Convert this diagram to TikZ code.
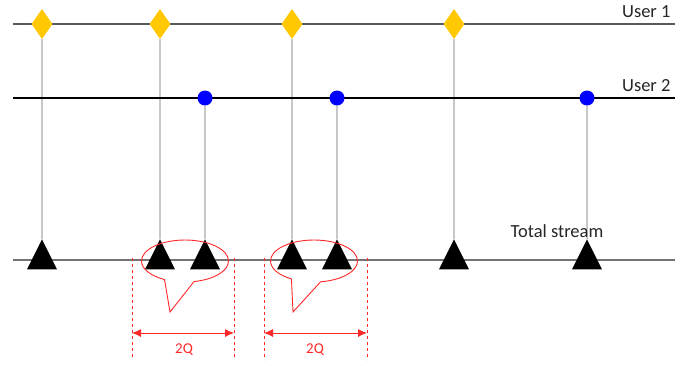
\documentclass[tikz,border=0pt]{standalone}
\usepackage{fontspec}
\setmainfont{Carlito}
\usetikzlibrary{positioning,shapes,backgrounds,arrows.meta}

\begin{document}
\begin{tikzpicture}[x=1pt,y=-1pt,
  tri/.style={isosceles triangle,isosceles triangle stretches,shape border rotate=90,fill=black,inner sep=0pt,minimum width=30pt,minimum height=30pt},
  dia/.style={diamond,fill={rgb,255:red,255;green,200;blue,0},inner sep=0pt,minimum width=21pt,minimum height=30pt},
  dot/.style={circle,fill=blue,inner sep=0pt,minimum size=15pt},
  drop/.style={draw={rgb,255:red,200;green,200;blue,200},line width=1.5pt},
  lbl/.style={font=\fontsize{18.5}{22}\selectfont,text=black!85},
  redline/.style={draw={rgb,255:red,255;green,40;blue,40},line width=0.9pt}]
\useasboundingbox (0,0) rectangle (700,365);

\coordinate (u1l) at (13,24);  \coordinate (u1r) at (675,24);
\coordinate (u2l) at (13,98);  \coordinate (u2r) at (675,98);
\coordinate (tsl) at (13,260); \coordinate (tsr) at (675,260);

\foreach \name/\x in {da/42, db/160, dc/292, dd/454} {
    \node[dia] (\name) at (\x,24) {};
}
\foreach \name/\x in {c1/205, c2/337, c3/587} {
    \node[dot] (\name) at (\x,98) {};
}
\foreach \number/\x in {1/42, 2/160, 3/205, 4/292, 5/337, 6/454, 7/587} {
    \node[tri] (t\number) at (\x,260) {};
}

\begin{pgfonlayer}{background}
\foreach \from/\to in {da/t1, db/t2, c1/t3, dc/t4, c2/t5, dd/t6, c3/t7} {
    \draw[drop] (\from.south) -- (\to.apex);
}
\draw[black!65,line width=1.5pt] (u1l) -- (u1r);
\draw[black,line width=1.3pt] (u2l) -- (u2r);
\draw[black!55,line width=2pt] (tsl) -- (tsr);
\end{pgfonlayer}

\node[lbl,anchor=base east] (user1) at (674,17) {User 1};
\node[lbl,anchor=base east] (user2) at (674,91) {User 2};
\node[lbl,anchor=base] (total) at (557,237) {Total stream};

% callouts round the close pairs
\coordinate (p1) at (170,312);
\coordinate (p2) at (293,312);
\node[ellipse callout,redline,minimum width=87pt,minimum height=42pt,callout absolute pointer={(p1)},callout pointer arc=40] (e1) at (185,261) {};
\node[ellipse callout,redline,minimum width=87pt,minimum height=42pt,callout absolute pointer={(p2)},callout pointer arc=40] (e2) at (314,261) {};

% 2Q spans
\foreach \i/\l/\r in {1/132/234, 2/264/367} {
    \coordinate (v\i a) at (\l,258); \coordinate (v\i b) at (\l,360);
    \coordinate (w\i a) at (\r,258); \coordinate (w\i b) at (\r,360);
    \draw[redline,dashed] (v\i a) -- (v\i b);
    \draw[redline,dashed] (w\i a) -- (w\i b);
    \coordinate (s\i l) at (\l,333); \coordinate (s\i r) at (\r,333);
    \draw[redline,{Latex[length=9pt,width=8pt]}-{Latex[length=9pt,width=8pt]}] (s\i l) -- (s\i r);
}
\node[font=\fontsize{15}{18}\selectfont,text={rgb,255:red,255;green,40;blue,40},anchor=base] (q1) at (184,353) {2Q};
\node[font=\fontsize{15}{18}\selectfont,text={rgb,255:red,255;green,40;blue,40},anchor=base] (q2) at (315,353) {2Q};
\end{tikzpicture}
\end{document}
